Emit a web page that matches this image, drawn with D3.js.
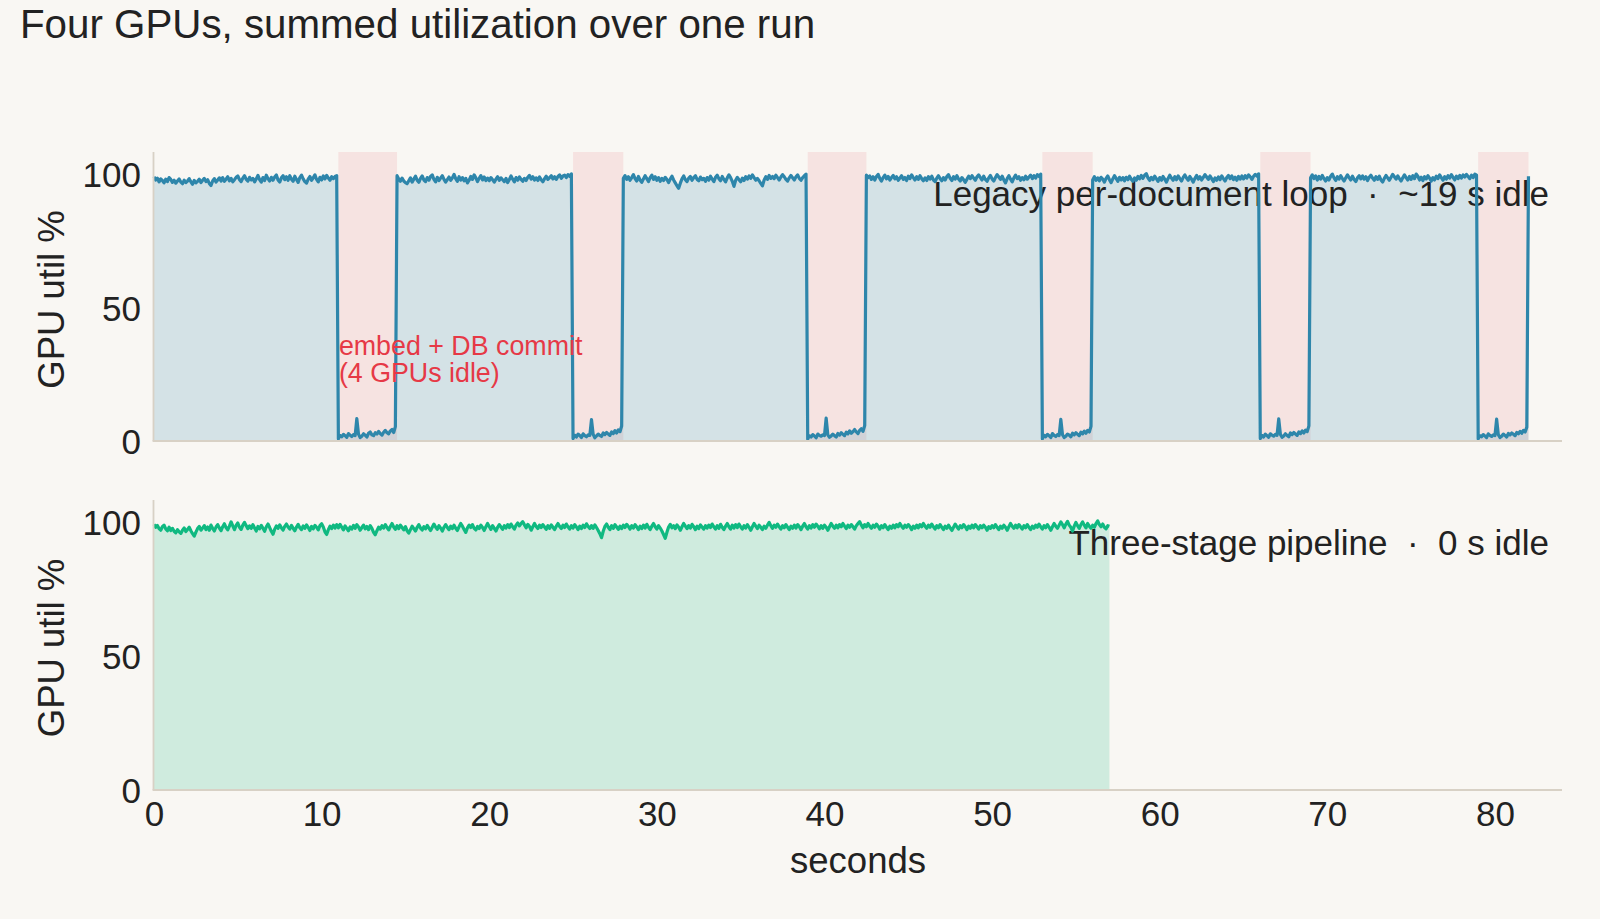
<!DOCTYPE html>
<html>
<head>
<meta charset="utf-8">
<script src="https://cdn.jsdelivr.net/npm/d3@7"></script>
<style>
  html, body { margin: 0; padding: 0; background: #f9f7f3; }
  svg { display: block; }
  text { font-family: "Liberation Sans", Arial, Helvetica, sans-serif; fill: #222; white-space: pre; }
</style>
</head>
<body>
<svg id="chart" width="1600" height="919"></svg>
<script>
// ---------------- data ----------------
const titleText = "Four GPUs, summed utilization over one run";
const sampleStep = 0.1; // seconds between samples
const xTicks = [0, 10, 20, 30, 40, 50, 60, 70, 80];
const yTicks = [0, 50, 100];
const xMax = 84;
const yMax = 108.5;

// idle windows of the legacy loop (seconds)
const idleStart = [11.0, 25.0, 39.0, 53.0, 66.0, 79.0];
const idleEnd   = [14.5, 28.0, 42.5, 56.0, 69.0, 82.0];

const legacyLabel = "Legacy per-document loop  \u00b7  ~19 s idle";
const pipelineLabel = "Three-stage pipeline  \u00b7  0 s idle";
const annotationLines = ["embed + DB commit", "(4 GPUs idle)"];

// legacy loop, summed utilisation %, one row = one second (10 samples)
const legacyUtil = [
99.2,98.0,98.7,97.3,98.4,97.8,96.9,98.3,97.4,98.9,
98.2,97.1,97.9,96.8,97.6,98.4,97.2,96.6,97.9,97.0,
97.6,98.5,97.3,96.4,97.8,96.9,97.5,98.3,97.0,97.9,
98.6,97.4,98.1,96.7,95.9,97.6,98.5,97.2,98.0,98.8,
97.6,98.9,97.5,98.3,99.2,97.7,98.6,97.3,98.1,99.0,
99.5,98.1,97.4,98.7,99.6,98.2,97.6,99.0,98.0,98.6,
97.3,98.4,99.7,98.1,97.2,98.9,97.8,99.8,98.5,97.6,
99.0,97.9,99.1,99.9,98.0,97.2,98.8,99.6,98.1,99.2,
97.9,99.6,98.3,97.5,99.4,98.2,97.1,98.9,99.8,98.4,
97.4,96.8,98.3,99.3,97.9,98.8,99.9,98.2,97.3,99.0,
98.0,99.5,98.4,99.7,98.7,97.9,99.2,98.5,99.3,99.6,
0.8,2.1,1.6,2.5,2.0,1.4,2.8,2.2,1.7,2.4,
2.0,8.4,2.6,1.3,1.8,2.7,2.2,1.5,2.9,3.4,
2.3,2.0,3.1,2.6,3.6,2.8,2.2,3.3,4.0,3.1,
2.7,3.8,4.3,3.2,5.4,99.6,98.4,97.5,98.7,97.6,
97.0,96.6,97.7,98.8,97.2,98.3,99.4,97.9,97.1,98.6,
99.5,98.0,97.4,98.9,97.9,99.3,99.9,98.2,97.3,99.0,
97.8,98.7,99.6,98.2,97.2,98.1,99.1,97.9,98.8,100.1,
98.5,97.5,99.2,98.0,98.9,97.7,98.6,96.9,97.9,99.3,
98.2,99.9,98.8,97.4,98.6,99.6,98.0,99.1,97.8,98.7,
97.7,98.9,98.1,97.2,98.3,99.2,97.9,98.8,98.1,97.4,
98.6,97.0,98.2,99.5,98.3,97.3,98.9,97.9,99.1,98.2,
97.5,98.6,97.8,99.0,99.7,98.3,99.2,98.0,98.8,97.8,
99.1,98.1,97.3,98.5,99.4,98.2,98.9,99.6,98.4,99.2,
98.2,99.3,99.9,98.6,99.5,99.8,98.9,100.0,99.4,100.3,
0.9,2.2,1.5,2.6,2.1,1.3,2.7,2.0,1.6,2.3,
2.1,8.0,2.5,1.2,1.9,2.6,2.1,1.7,3.0,2.4,
3.2,2.6,2.1,3.4,2.8,3.9,3.0,4.2,3.5,5.6,
98.6,99.6,98.2,99.2,97.9,98.9,100.0,98.5,97.6,99.3,
98.0,97.1,98.4,99.6,98.5,97.4,98.9,99.8,98.2,99.2,
97.9,98.9,97.5,98.6,97.8,99.0,98.2,97.0,98.3,99.4,
98.0,96.9,95.8,94.9,96.8,98.4,99.5,98.1,97.4,98.7,
99.3,97.9,98.9,99.6,98.2,97.7,99.1,98.1,98.6,97.5,
98.9,97.9,99.4,98.3,97.4,99.0,99.8,98.5,97.7,99.3,
98.2,97.3,98.8,99.9,98.9,97.5,95.6,97.9,99.0,98.1,
97.3,98.7,97.8,99.2,98.3,99.5,98.6,99.9,98.9,97.9,
98.6,97.7,96.7,95.8,98.0,99.2,98.2,99.7,98.6,99.3,
98.5,99.8,98.9,98.0,99.1,100.0,99.2,98.2,97.6,98.8,
99.7,98.8,98.0,99.2,99.9,98.6,97.9,98.9,99.6,100.2,
0.7,2.0,1.5,2.4,1.9,1.2,2.6,2.1,1.8,2.3,
2.0,8.6,2.3,1.4,1.9,2.6,2.0,1.5,2.8,2.2,
3.1,2.5,2.0,3.3,2.7,3.8,2.9,3.5,4.3,3.4,
2.8,4.0,4.6,3.6,5.8,99.8,98.9,99.5,98.2,99.2,
98.0,99.3,100.1,98.6,97.6,98.9,99.8,98.4,99.3,98.0,
98.9,99.7,98.4,99.2,97.9,98.7,99.6,98.2,98.9,97.8,
99.4,98.5,99.9,98.9,98.0,99.2,98.2,99.6,98.5,97.7,
98.8,97.8,99.2,98.3,99.4,98.0,97.4,98.7,99.6,98.5,
97.7,98.9,98.0,99.3,100.0,98.6,97.8,99.2,98.3,99.6,
98.4,97.6,98.9,98.1,97.1,98.3,99.4,98.5,99.6,98.7,
97.9,99.2,99.9,98.9,98.0,99.4,98.2,97.5,98.8,99.7,
98.4,97.6,98.9,100.0,99.1,98.2,99.4,98.0,96.9,98.5,
99.6,98.3,97.3,98.8,99.8,98.5,99.2,97.9,98.9,98.1,
99.4,98.3,99.1,99.8,98.5,99.6,98.7,100.0,99.3,100.2,
0.8,2.2,1.6,2.5,2.0,1.3,2.8,2.1,1.7,2.4,
2.0,8.1,2.4,1.3,1.8,2.6,2.2,1.6,2.9,2.3,
3.1,2.5,2.0,3.3,2.7,3.7,2.9,4.0,3.4,5.5,
98.0,99.2,97.9,98.8,97.7,99.0,98.3,97.2,98.6,99.5,
98.1,97.0,98.4,99.6,98.6,97.5,99.0,98.0,98.9,97.7,
99.0,98.1,99.4,98.3,97.5,98.8,97.9,99.3,98.4,99.7,
98.6,99.8,100.4,98.8,97.8,99.0,98.1,99.4,98.5,97.5,
98.9,97.9,99.3,98.3,97.2,98.6,99.8,98.7,97.9,99.2,
98.1,99.5,98.5,97.6,99.0,99.9,98.7,97.9,99.3,98.3,
97.2,98.6,99.7,98.3,99.2,98.0,99.0,100.0,99.1,98.2,
99.5,98.5,97.4,98.8,97.9,99.1,98.1,99.5,98.5,97.6,
98.9,99.7,98.5,99.5,98.1,99.0,97.9,99.3,98.3,99.5,
98.4,99.6,98.7,99.9,99.2,98.2,99.4,100.1,99.5,100.3,
0.9,2.1,1.5,2.6,2.0,1.4,2.7,2.2,1.8,2.5,
2.1,8.3,2.5,1.4,1.9,2.7,2.1,1.6,3.0,2.4,
3.2,2.6,2.1,3.4,2.8,3.8,3.0,4.1,3.5,5.7,
98.8,99.9,98.5,99.5,98.0,99.3,98.3,99.7,98.5,97.6,
98.9,98.0,99.4,100.2,98.8,97.8,99.2,98.3,99.6,98.5,
97.6,98.8,99.9,98.9,98.0,99.4,98.2,97.4,98.8,99.6,
98.4,99.5,98.3,99.2,97.8,99.0,99.8,98.7,97.9,99.2,
98.2,99.4,98.0,97.2,98.6,99.7,98.8,97.9,99.0,100.1,
99.2,98.3,99.5,98.5,97.6,98.8,99.9,98.9,98.0,99.3,
98.2,99.6,98.5,100.2,99.4,98.0,99.0,97.8,99.2,98.4,
99.6,98.7,97.6,98.9,98.0,99.4,98.5,99.9,98.9,97.9,
99.2,98.3,99.6,98.7,100.0,99.0,98.0,99.4,98.5,99.7,
98.7,99.9,99.1,100.1,99.3,98.5,99.8,98.9,100.2,99.8,
0.8,2.0,1.6,2.4,1.9,1.3,2.7,2.1,1.7,2.3,
2.0,8.2,2.4,1.3,1.8,2.6,2.1,1.5,2.8,2.3,
3.0,2.5,2.0,3.2,2.7,3.6,2.9,4.0,3.4,5.2,
99.4
];

// three-stage pipeline, summed utilisation %, one row = one second
const pipelineUtil = [
99.4,98.3,99.0,97.8,97.2,98.5,99.1,97.7,97.0,98.3,
97.1,97.9,96.8,96.2,97.4,96.6,96.0,97.2,98.0,96.7,
97.5,98.3,97.0,95.9,95.0,96.5,97.8,98.6,97.2,98.0,
98.9,97.4,98.4,97.2,99.1,97.9,96.9,98.4,99.3,98.0,
97.0,98.5,99.6,98.2,97.3,98.7,100.3,98.8,97.4,99.0,
99.9,98.3,97.5,99.1,100.1,98.9,97.8,98.8,97.9,99.3,
98.0,96.9,98.6,97.7,99.0,97.9,96.8,98.5,99.5,98.2,
96.8,95.7,97.6,98.8,97.9,99.2,98.1,97.2,98.6,99.5,
98.4,97.6,99.0,97.9,97.0,98.4,99.4,98.1,97.4,98.8,
97.9,99.2,98.2,97.1,98.6,97.7,99.0,98.3,97.3,98.9,
99.6,98.4,96.6,95.6,97.4,98.7,97.8,99.1,98.0,99.3,
98.1,99.4,98.3,97.3,98.8,97.9,97.0,98.4,97.6,99.0,
97.9,99.3,98.4,97.2,98.2,99.1,97.7,98.6,97.4,98.9,
97.9,96.4,95.5,97.0,98.3,97.6,98.9,98.0,99.3,98.2,
97.3,98.6,99.7,98.4,97.5,98.9,97.8,99.1,98.2,97.3,
98.5,97.0,96.1,97.4,98.7,97.8,96.9,98.3,99.3,98.0,
97.3,98.5,97.7,99.0,98.0,97.1,98.3,99.5,98.4,97.5,
98.9,98.0,96.9,98.3,99.3,98.2,97.4,98.7,97.8,99.1,
97.9,97.1,98.5,99.7,98.7,97.5,96.4,98.1,99.1,98.2,
99.3,97.9,97.3,98.6,97.8,99.1,98.2,97.1,98.5,99.7,
98.6,97.5,98.9,97.9,96.9,98.3,99.3,98.4,97.5,98.9,
98.0,99.3,98.2,99.5,98.5,97.6,99.1,99.9,98.8,99.7,
100.4,99.2,98.1,99.4,98.6,97.2,98.5,99.7,98.6,97.8,
99.1,98.2,99.3,98.4,97.5,98.9,97.9,99.2,98.3,97.4,
98.7,99.7,98.6,97.8,99.1,98.2,99.5,98.5,97.6,98.9,
98.0,99.3,98.4,97.4,98.7,97.8,99.1,98.2,99.6,98.6,
97.8,98.9,97.9,99.2,98.2,97.1,95.9,94.4,96.8,98.6,
99.5,98.3,97.4,98.9,97.9,99.3,98.4,97.5,98.7,97.8,
99.1,98.2,99.4,98.6,97.6,98.9,98.0,99.3,98.4,97.4,
98.7,97.8,99.1,98.0,99.4,98.3,97.4,98.7,99.7,98.5,
97.6,98.9,98.0,96.9,95.6,94.2,96.4,98.4,99.4,98.1,
98.9,97.8,99.2,98.3,97.2,98.5,99.7,98.7,97.8,98.9,
98.0,99.4,98.5,97.4,98.7,97.8,99.2,98.3,97.6,98.9,
98.0,99.1,98.2,99.5,98.5,97.6,98.9,97.9,99.4,98.3,
97.4,98.7,99.7,98.5,97.6,99.1,98.0,99.3,98.2,99.5,
98.5,97.6,98.9,98.0,99.3,98.3,97.2,98.5,99.7,98.7,
97.8,99.1,98.3,97.4,98.7,97.9,99.1,100.1,98.9,97.9,
99.1,98.3,99.5,98.5,97.6,98.9,98.1,99.3,98.3,97.4,
98.7,97.9,99.1,98.0,99.3,98.5,97.4,98.7,99.7,98.5,
97.6,98.9,98.0,99.3,98.3,99.5,98.7,97.7,98.9,97.9,
99.1,98.3,97.2,98.5,99.7,98.7,97.9,99.1,98.1,99.3,
98.5,99.7,98.7,97.8,99.1,98.3,99.3,98.5,97.6,98.9,
99.7,100.4,99.1,98.1,99.3,98.5,99.7,98.7,97.9,99.1,
98.3,99.5,98.7,97.6,98.9,98.1,99.3,98.3,97.4,98.7,
97.9,99.1,98.1,99.3,98.5,99.7,98.7,97.9,99.1,98.3,
99.3,98.5,97.4,98.7,97.9,99.1,98.1,99.3,98.5,99.7,
98.7,97.9,99.1,98.3,99.5,98.5,97.6,98.9,98.1,99.3,
98.3,97.4,98.7,97.9,99.1,98.1,97.1,98.3,99.5,98.5,
97.6,98.9,98.1,99.3,98.5,97.4,98.7,97.9,99.1,98.1,
99.3,98.5,97.6,98.9,98.1,99.1,98.3,97.2,98.5,97.9,
98.9,98.1,99.3,98.3,97.4,98.7,97.9,99.1,98.3,97.2,
98.5,99.7,98.7,97.9,99.1,98.1,99.3,98.5,97.6,98.9,
98.1,99.3,98.3,97.4,98.7,97.9,99.1,98.3,99.5,98.5,
97.6,98.9,98.1,99.3,98.3,97.2,98.5,99.7,98.7,97.9,
99.1,100.3,99.3,98.1,99.5,100.5,99.1,98.3,96.9,98.7,
100.1,98.9,97.9,99.3,100.3,99.1,98.1,99.7,98.7,97.9,
99.1,98.3,99.7,100.7,99.3,98.5,99.5,98.3,97.7,98.9,
98.7
];

// ---------------- drawing ----------------
const W = 1600, H = 919;
const left = 154, right = 1562;
const panels = [
  { top: 152, bottom: 441, values: legacyUtil, line: "#2e86ab", label: legacyLabel, idle: true },
  { top: 500, bottom: 790, values: pipelineUtil, line: "#10b981", label: pipelineLabel, idle: false }
];
const spineColor = "#d8d1c5";
const font = '"Liberation Sans", Arial, Helvetica, sans-serif';

const svg = d3.select("#chart");
svg.append("rect").attr("width", W).attr("height", H).attr("fill", "#f9f7f3");

const x = d3.scaleLinear().domain([0, xMax]).range([left, right]);

svg.append("text")
  .attr("x", 20).attr("y", 37.5)
  .attr("font-size", 40.3)
  .text(titleText);

panels.forEach((p, pi) => {
  const y = d3.scaleLinear().domain([0, yMax]).range([p.bottom, p.top]);
  const g = svg.append("g");
  const pts = p.values.map((v, i) => [i * sampleStep, v]);

  if (p.idle) {
    g.selectAll("rect.idle").data(idleStart).join("rect")
      .attr("class", "idle")
      .attr("x", (d) => x(d))
      .attr("width", (d, i) => x(idleEnd[i]) - x(d))
      .attr("y", y(yMax))
      .attr("height", y(0) - y(yMax))
      .attr("fill", "#e63946").attr("fill-opacity", 0.1);
  }

  const area = d3.area().x(d => x(d[0])).y0(y(0)).y1(d => y(d[1]));
  g.append("path").datum(pts).attr("d", area)
    .attr("fill", p.line).attr("fill-opacity", 0.18);

  // panel label
  g.append("text")
    .attr("x", 1549).attr("y", pi === 0 ? 206 : 555)
    .attr("text-anchor", "end")
    .attr("font-size", 35)
    .text(p.label);

  const line = d3.line().x(d => x(d[0])).y(d => y(d[1]));
  g.append("path").datum(pts).attr("d", line)
    .attr("fill", "none").attr("stroke", p.line)
    .attr("stroke-width", 3.2).attr("stroke-linejoin", "round");

  // spines
  g.append("line").attr("x1", left - 0.5).attr("x2", left - 0.5)
    .attr("y1", p.top).attr("y2", p.bottom)
    .attr("stroke", spineColor).attr("stroke-width", 1.8);
  g.append("line").attr("x1", left - 1.4).attr("x2", right)
    .attr("y1", p.bottom).attr("y2", p.bottom)
    .attr("stroke", spineColor).attr("stroke-width", 1.8);

  // y axis via d3.axisLeft
  const ya = d3.axisLeft(y).tickValues(yTicks).tickSize(0).tickPadding(13).tickFormat(d3.format("d"));
  const yg = g.append("g").attr("transform", `translate(${left},0)`).call(ya);
  yg.select(".domain").remove();
  yg.selectAll("text").attr("font-size", 35).attr("font-family", font).attr("fill", "#222").attr("dy", "0.35em");

  // y label
  g.append("text")
    .attr("transform", `translate(63.5,${(p.top + p.bottom) / 2 + 3}) rotate(-90)`)
    .attr("text-anchor", "middle")
    .attr("font-size", 36.5)
    .text("GPU util %");

  if (pi === 1) {
    const xa = d3.axisBottom(x).tickValues(xTicks).tickSize(0).tickPadding(11).tickFormat(d3.format("d"));
    const xg = g.append("g").attr("transform", `translate(0,${p.bottom})`).call(xa);
    xg.select(".domain").remove();
    xg.selectAll("text").attr("font-size", 35).attr("font-family", font).attr("fill", "#222");
    g.append("text")
      .attr("x", (left + right) / 2).attr("y", 873)
      .attr("text-anchor", "middle")
      .attr("font-size", 36.6)
      .text("seconds");
  } else {
    // annotation on first idle window
    const ann = g.append("text")
      .attr("x", x(idleStart[0]) + 0.5).attr("y", 354.5)
      .attr("font-size", 26.8)
      .style("fill", "#e63946");
    annotationLines.forEach((t, i) => {
      ann.append("tspan").attr("x", x(idleStart[0]) + 0.5).attr("dy", i === 0 ? 0 : 27.4).text(t).style("fill", "#e63946");
    });
  }
});
</script>
</body>
</html>
